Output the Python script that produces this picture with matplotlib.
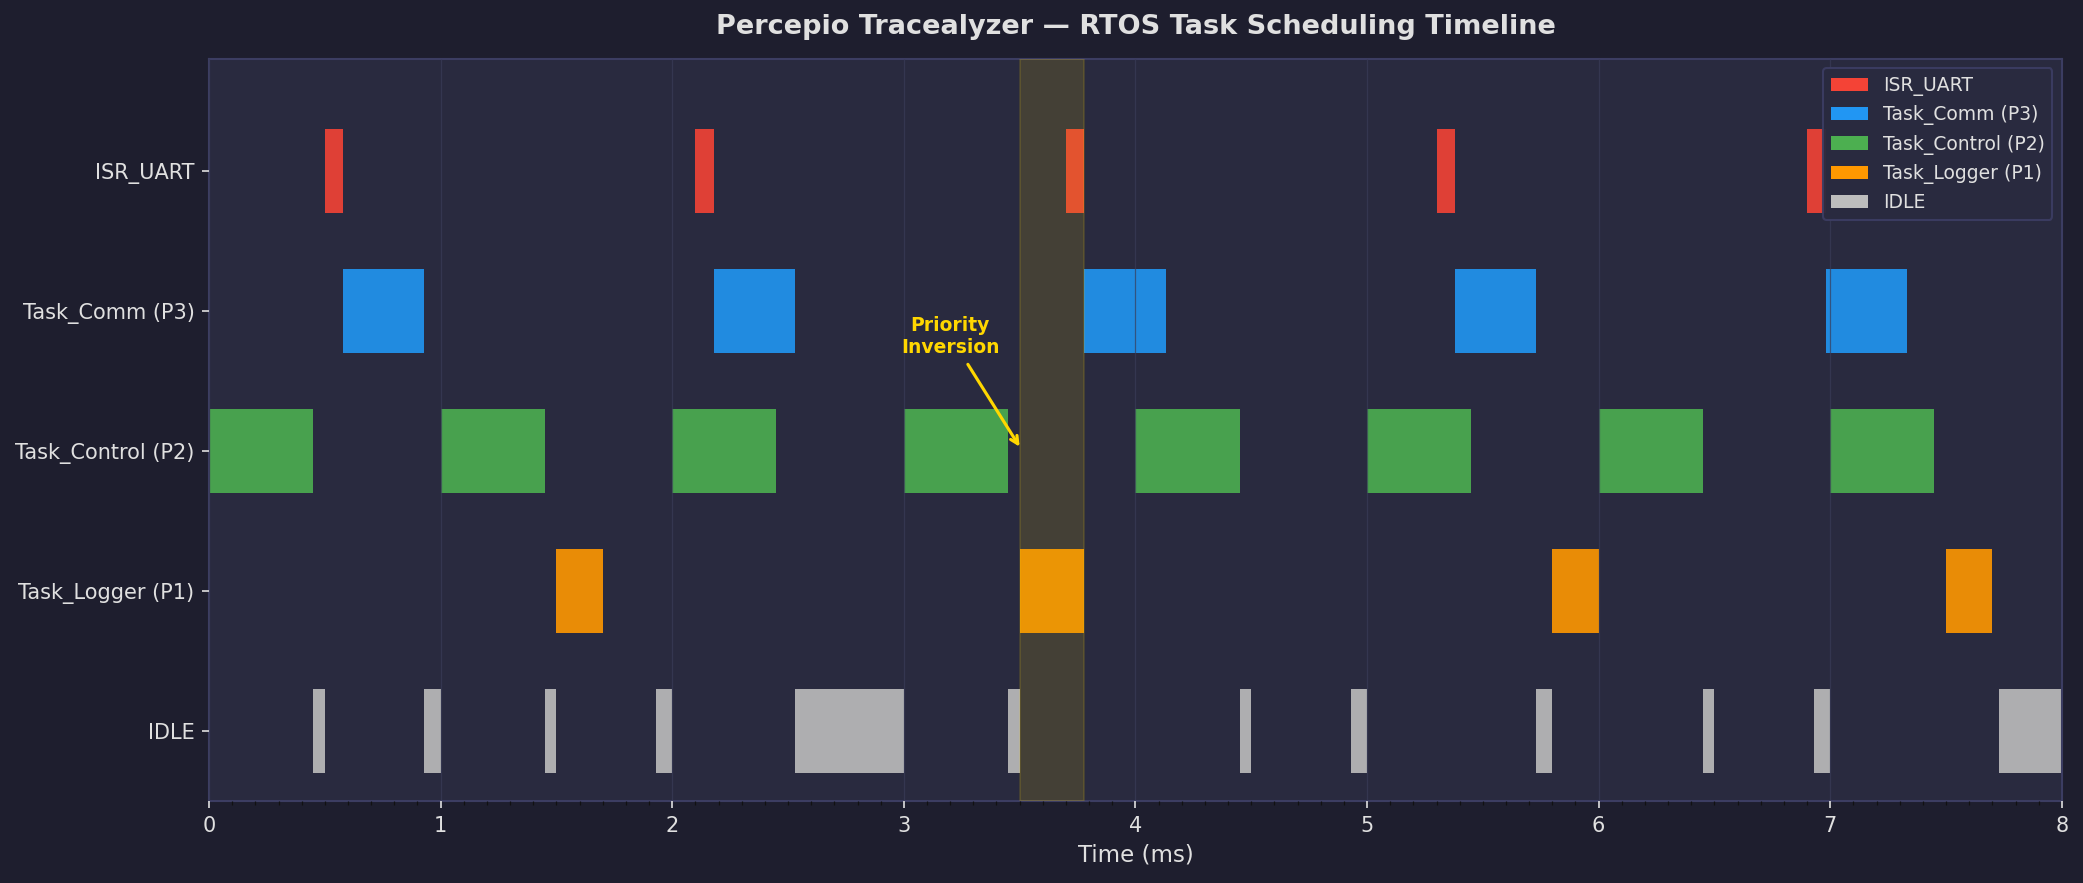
import matplotlib.pyplot as plt
from matplotlib.patches import Patch

# task rows, top to bottom
tasks = ["ISR_UART", "Task_Comm (P3)", "Task_Control (P2)", "Task_Logger (P1)", "IDLE"]
colors = ["#F44336", "#2196F3", "#4CAF50", "#FF9800", "#BDBDBD"]

# (start, duration) in ms
isr_uart = [(0.50, 0.08), (2.10, 0.08), (3.70, 0.08), (5.30, 0.08), (6.90, 0.08)]
task_comm = [(0.58, 0.35), (2.18, 0.35), (3.78, 0.35), (5.38, 0.35), (6.98, 0.35)]
task_control = [(0.0, 0.45), (1.0, 0.45), (2.0, 0.45), (3.0, 0.45),
                (4.0, 0.45), (5.0, 0.45), (6.0, 0.45), (7.0, 0.45)]
task_logger = [(1.50, 0.20), (3.50, 0.28), (5.80, 0.20), (7.50, 0.20)]
idle = [(0.45, 0.05), (0.93, 0.07), (1.45, 0.05), (1.93, 0.07), (2.53, 0.47),
        (3.45, 0.05), (4.45, 0.05), (4.93, 0.07), (5.73, 0.07), (6.45, 0.05),
        (6.93, 0.07), (7.73, 0.27)]
segments = [isr_uart, task_comm, task_control, task_logger, idle]

inversion = (3.50, 3.78)

bg = "#1e1e2e"
panel = "#292a3f"
txt = "#e0e0e0"
edge = "#3c3d62"

fig = plt.figure(figsize=(13.893, 5.887), dpi=150, facecolor=bg)
ax = fig.add_axes([0.1003, 0.0929, 0.8891, 0.8403])
ax.set_facecolor(panel)

n = len(tasks)
for i, (segs, c) in enumerate(zip(segments, colors)):
    y = n - 1 - i
    ax.broken_barh(segs, (y - 0.3, 0.6), facecolors=c, alpha=0.9, zorder=1)

ax.axvspan(inversion[0], inversion[1], color="#FFD700", alpha=0.13, zorder=3)

ax.annotate("Priority\nInversion", xy=(3.5, 2.03), xytext=(3.2, 2.82),
            color="#FFD700", fontsize=9, fontweight="bold", ha="center", va="center",
            arrowprops=dict(arrowstyle="->", color="#FFD700", lw=1.5, shrinkB=0),
            zorder=5)

ax.set_yticks(range(n))
ax.set_yticklabels(tasks[::-1])
ax.set_ylim(-0.5, 4.8)
ax.set_xlim(0, 8)
ax.set_xticks(range(9))
ax.set_xticks([i / 10 for i in range(81)], minor=True)
ax.grid(axis="x", color="#3a3c58", linewidth=0.6, alpha=0.7, zorder=2)
ax.set_axisbelow(False)

ax.tick_params(colors=txt, labelsize=10)
ax.tick_params(axis="x", which="minor", color="#111111", length=2)
for s in ax.spines.values():
    s.set_color(edge)
    s.set_linewidth(1.0)

ax.set_xlabel("Time (ms)", color=txt, fontsize=11)
ax.set_title("Percepio Tracealyzer — RTOS Task Scheduling Timeline",
             color=txt, fontsize=13, fontweight="bold", pad=12)

handles = [Patch(facecolor=c, label=t) for t, c in zip(tasks, colors)]
leg = ax.legend(handles=handles, loc="upper right", fontsize=9,
                facecolor=panel, edgecolor=edge, labelcolor=txt, framealpha=0.95)
leg.set_zorder(6)

fig.savefig("out.png", dpi=150, facecolor=bg)
